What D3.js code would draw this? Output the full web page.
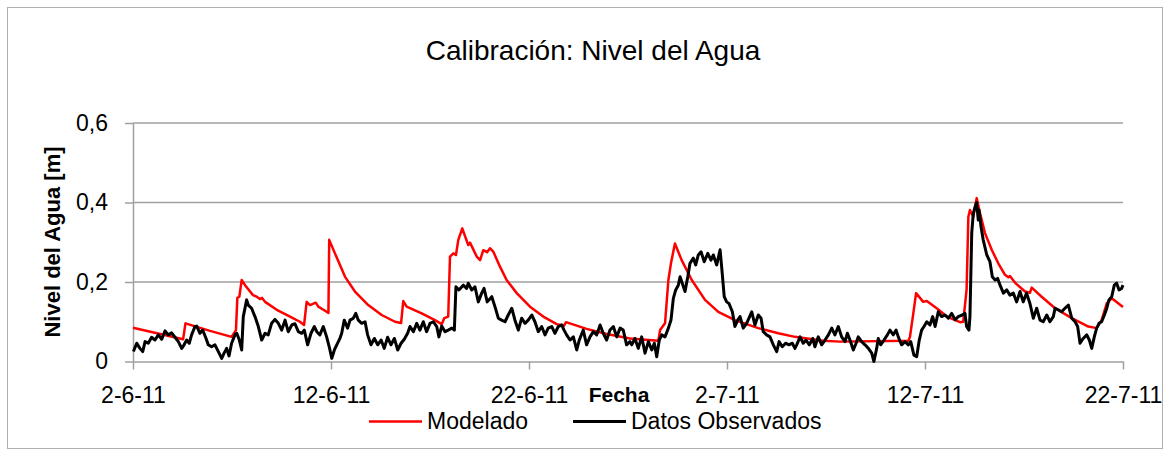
<!DOCTYPE html>
<html><head><meta charset="utf-8">
<script src="https://cdn.jsdelivr.net/npm/d3@7"></script>
<style>
html,body{margin:0;padding:0;background:#fff;}
text{font-family:"Liberation Sans",Arial,sans-serif;fill:#000;}
</style></head>
<body><svg id="c" width="1170" height="456"></svg>
<script>
const startDate = "2011-06-02";
const endDate = "2011-07-22";
const xTickDays = [0, 10, 20, 30, 40, 50];
const yTicks = [0, 0.2, 0.4, 0.6];
const titleText = "Calibración: Nivel del Agua";
const yTitle = "Nivel del Agua [m]";
const xTitle = "Fecha";
const seriesNames = ["Modelado", "Datos Observados"];

const modelDays = [0,2.53,2.65,3.89,4.98,5.2,5.27,5.37,5.49,5.66,
6.06,6.25,6.41,6.52,6.67,7.26,7.93,8.43,8.64,8.77,
8.94,9.23,9.36,9.78,9.87,9.91,10.2,10.71,11.21,11.88,
12.56,13.23,13.54,13.65,13.82,14.58,15.25,15.59,15.72,15.92,
16.01,16.18,16.31,16.43,16.63,16.93,17.02,17.36,17.53,17.69,
17.88,18.03,18.2,18.54,18.87,19.38,20.05,20.72,21.4,21.77,
21.87,22.91,23.92,25.1,26.53,26.62,26.87,27.04,27.17,27.37,
27.71,28.22,28.89,29.56,30.4,31.58,32.59,33.43,34.86,35.71,
39.16,39.24,39.41,39.55,39.91,40.09,40.59,41.1,41.77,41.93,
42.1,42.19,42.27,42.44,42.61,42.78,43.03,43.37,43.7,44.04,
44.21,44.29,44.55,45.05,45.3,45.39,45.89,46.57,47.41,48.25,
48.67,48.92,49.18,49.43,50];
const modelLevels = [0.085,0.056,0.096,0.077,0.062,0.079,0.160,0.163,0.205,0.192,
0.167,0.163,0.157,0.160,0.150,0.130,0.113,0.100,0.092,0.150,
0.142,0.148,0.138,0.125,0.122,0.306,0.272,0.213,0.176,0.142,
0.117,0.100,0.097,0.152,0.138,0.121,0.104,0.094,0.109,0.113,
0.264,0.272,0.268,0.306,0.335,0.293,0.299,0.264,0.255,0.280,
0.275,0.285,0.276,0.238,0.205,0.172,0.138,0.113,0.094,0.090,
0.099,0.082,0.069,0.058,0.052,0.079,0.096,0.205,0.247,0.297,
0.255,0.205,0.155,0.125,0.104,0.084,0.071,0.062,0.052,0.050,
0.052,0.062,0.121,0.172,0.150,0.152,0.134,0.113,0.099,0.100,
0.180,0.364,0.381,0.364,0.411,0.373,0.323,0.281,0.247,0.218,
0.212,0.215,0.198,0.176,0.173,0.186,0.163,0.134,0.109,0.088,
0.084,0.104,0.146,0.159,0.137];

const obsDays = [0.02,0.19,0.35,0.49,0.61,0.77,0.94,1.11,1.28,1.45,
1.62,1.78,1.95,2.12,2.29,2.46,2.58,2.71,2.84,2.96,
3.13,3.22,3.38,3.52,3.69,3.80,3.97,4.14,4.31,4.48,
4.60,4.73,4.85,4.98,5.15,5.24,5.37,5.49,5.57,5.74,
5.82,5.99,6.16,6.33,6.50,6.67,6.83,7.00,7.17,7.34,
7.51,7.68,7.84,8.02,8.18,8.35,8.52,8.65,8.82,8.99,
9.16,9.28,9.44,9.61,9.78,9.91,10.04,10.17,10.29,10.45,
10.54,10.67,10.84,10.96,11.13,11.25,11.38,11.55,11.72,11.85,
12.02,12.19,12.36,12.53,12.69,12.86,13.03,13.20,13.37,13.54,
13.70,13.87,13.99,14.16,14.33,14.49,14.66,14.83,15.00,15.17,
15.34,15.45,15.59,15.76,15.92,16.10,16.23,16.31,16.46,16.68,
16.85,16.93,17.11,17.27,17.44,17.61,17.73,17.89,18.12,18.28,
18.45,18.62,18.79,18.95,19.13,19.29,19.46,19.63,19.80,19.96,
20.14,20.30,20.47,20.64,20.81,20.97,21.15,21.31,21.48,21.65,
21.77,21.90,22.07,22.24,22.41,22.54,22.74,22.91,23.08,23.25,
23.42,23.59,23.75,23.92,24.09,24.26,24.43,24.60,24.76,24.93,
25.10,25.19,25.35,25.52,25.69,25.86,26.03,26.20,26.33,26.45,
26.58,26.70,26.87,27.04,27.17,27.29,27.41,27.54,27.63,27.74,
27.88,28.02,28.13,28.30,28.42,28.55,28.69,28.85,29.03,29.19,
29.31,29.48,29.65,29.73,29.86,29.98,30.10,30.27,30.40,30.54,
30.66,30.82,30.99,31.11,31.25,31.41,31.58,31.72,31.83,32.00,
32.17,32.34,32.51,32.63,32.79,32.96,33.13,33.30,33.43,33.52,
33.69,33.85,33.99,34.16,34.33,34.44,34.61,34.78,34.95,35.12,
35.29,35.45,35.62,35.79,35.96,36.08,36.21,36.38,36.52,36.63,
36.80,36.97,37.14,37.31,37.42,37.56,37.64,37.76,37.93,38.10,
38.23,38.40,38.54,38.65,38.82,38.99,39.16,39.28,39.44,39.58,
39.71,39.83,39.95,40.09,40.25,40.39,40.51,40.67,40.84,41.01,
41.18,41.35,41.52,41.68,41.88,42.02,42.10,42.22,42.27,42.36,
42.44,42.53,42.61,42.69,42.73,42.83,42.94,43.12,43.28,43.40,
43.54,43.67,43.79,43.96,44.13,44.29,44.46,44.63,44.80,44.96,
45.13,45.30,45.47,45.64,45.81,45.97,46.15,46.31,46.48,46.57,
46.73,46.90,47.07,47.24,47.41,47.58,47.71,47.83,47.99,48.17,
48.30,48.42,48.55,48.67,48.79,48.92,49.06,49.18,49.29,49.43,
49.56,49.68,49.80,49.93,50.00];
const obsLevels = [.025,.046,.033,.025,.050,.046,.061,.054,.067,.056,
.077,.067,.072,.061,.050,.033,.042,.054,.046,.067,
.088,.089,.071,.079,.058,.042,.037,.042,.025,.008,
.021,.033,.014,.046,.067,.071,.054,.029,.113,.155,
.142,.134,.113,.088,.054,.071,.067,.096,.106,.096,
.079,.104,.075,.092,.095,.075,.071,.079,.042,.071,
.088,.075,.067,.088,.062,.037,.008,.029,.042,.058,
.071,.104,.084,.104,.109,.121,.104,.096,.100,.067,
.042,.058,.042,.054,.033,.061,.042,.058,.029,.046,
.056,.071,.088,.075,.096,.079,.100,.075,.096,.100,
.088,.062,.089,.075,.079,.084,.079,.188,.180,.192,
.184,.197,.180,.188,.150,.172,.184,.150,.163,.138,
.109,.104,.100,.117,.134,.104,.079,.109,.096,.104,
.117,.100,.075,.088,.067,.084,.088,.071,.088,.092,
.079,.067,.054,.062,.029,.054,.079,.042,.062,.075,
.067,.092,.071,.054,.079,.088,.062,.084,.079,.042,
.050,.042,.058,.033,.062,.021,.050,.029,.046,.012,
.054,.067,.062,.084,.104,.159,.180,.192,.213,.197,
.176,.213,.247,.260,.243,.268,.276,.251,.272,.255,
.268,.243,.281,.238,.163,.150,.146,.125,.088,.104,
.113,.084,.096,.109,.125,.092,.117,.109,.075,.067,
.062,.042,.025,.050,.037,.046,.042,.046,.033,.042,
.062,.046,.054,.042,.058,.037,.062,.042,.054,.067,
.084,.067,.088,.062,.050,.071,.054,.029,.046,.062,
.050,.042,.033,.021,.000,.033,.058,.042,.054,.067,
.079,.067,.079,.062,.042,.050,.042,.050,.016,.012,
.054,.079,.088,.100,.092,.113,.088,.125,.113,.117,
.109,.121,.105,.113,.117,.121,.088,.079,.113,.323,
.373,.389,.400,.356,.381,.339,.306,.268,.251,.213,
.205,.209,.192,.172,.180,.167,.172,.150,.176,.150,
.172,.146,.109,.134,.104,.100,.117,.100,.113,.134,
.130,.125,.134,.142,.109,.100,.088,.046,.058,.067,
.054,.033,.062,.084,.096,.100,.117,.134,.155,.163,
.192,.197,.180,.184,.192];

const DAY = 86400000;
const t0 = new Date(startDate + "T00:00:00Z").getTime();
const toDate = d => new Date(t0 + d * DAY);

const W = 1170, H = 456;
const m = {left: 133, right: 1123, top: 123, bottom: 361.5};
const svg = d3.select("#c");

svg.append("rect").attr("x", 0).attr("y", 0).attr("width", W).attr("height", H).attr("fill", "#fff");
svg.append("rect").attr("x", 7.5).attr("y", 7.5).attr("width", 1155).attr("height", 441)
  .attr("fill", "none").attr("stroke", "#b0b0b0").attr("stroke-width", 1);

const x = d3.scaleUtc().domain([new Date(startDate + "T00:00:00Z"), new Date(endDate + "T00:00:00Z")]).range([m.left, m.right]);
const y = d3.scaleLinear().domain([0, 0.6]).range([m.bottom, m.top]);

const loc = d3.formatLocale({decimal: ",", thousands: ".", grouping: [3], currency: ["", "€"]});
const f1 = loc.format(".1f");
const yFmt = v => v === 0 ? "0" : f1(v);
const xFmt = d3.utcFormat("%-d-%-m-%y");

const gridColor = "#a0a0a0";
svg.append("g").selectAll("line").data(yTicks.filter(v => v > 0)).join("line")
  .attr("x1", m.left).attr("x2", m.right).attr("y1", d => y(d)).attr("y2", d => y(d))
  .attr("stroke", gridColor).attr("stroke-width", 1.5);

const yAxis = svg.append("g").attr("transform", `translate(${m.left},0)`)
  .call(d3.axisLeft(y).tickValues(yTicks).tickFormat(yFmt).tickSize(8).tickSizeOuter(0).tickPadding(17));
yAxis.select(".domain").attr("stroke", gridColor).attr("stroke-width", 1.5);
yAxis.selectAll(".tick line").attr("stroke", gridColor).attr("stroke-width", 1.5);
yAxis.selectAll(".tick text").style("font-size", "23px").attr("fill", "#000");

const xAxis = svg.append("g").attr("transform", `translate(0,${m.bottom})`)
  .call(d3.axisBottom(x).tickValues(xTickDays.map(toDate)).tickFormat(xFmt).tickSize(8).tickSizeOuter(0).tickPadding(17));
xAxis.select(".domain").attr("stroke", gridColor).attr("stroke-width", 1.5);
xAxis.selectAll(".tick line").attr("stroke", gridColor).attr("stroke-width", 1.5);
xAxis.selectAll(".tick text").style("font-size", "23px").attr("fill", "#000");

const line = d3.line().x(d => x(d[0])).y(d => y(d[1])).curve(d3.curveLinear);
const modelData = modelDays.map((d, i) => [toDate(d), modelLevels[i]]);
const obsData = obsDays.map((d, i) => [toDate(d), obsLevels[i]]);
svg.append("path").datum(modelData).attr("d", line).attr("fill", "none")
  .attr("stroke", "#ff0000").attr("stroke-width", 2.5).attr("stroke-linejoin", "round");
svg.append("path").datum(obsData).attr("d", line).attr("fill", "none")
  .attr("stroke", "#000").attr("stroke-width", 3).attr("stroke-linejoin", "round");

svg.append("text").attr("x", 593).attr("y", 60).attr("text-anchor", "middle")
  .style("font-size", "28px").text(titleText);
svg.append("text").attr("transform", "translate(60,242) rotate(-90)").attr("text-anchor", "middle")
  .style("font-size", "22px").style("font-weight", "bold").text(yTitle);
svg.append("text").attr("x", 619).attr("y", 402).attr("text-anchor", "middle")
  .style("font-size", "21px").style("font-weight", "bold").text(xTitle);

const legendColors = ["#ff0000", "#000"];
const legendX = [369, 573];
const lg = svg.append("g");
seriesNames.forEach((n, i) => {
  lg.append("line").attr("x1", legendX[i]).attr("x2", legendX[i] + 53).attr("y1", 421.5).attr("y2", 421.5)
    .attr("stroke", legendColors[i]).attr("stroke-width", i === 0 ? 2.5 : 3);
  lg.append("text").attr("x", legendX[i] + 58).attr("y", 429).style("font-size", "23px").text(n);
});
</script></body></html>
